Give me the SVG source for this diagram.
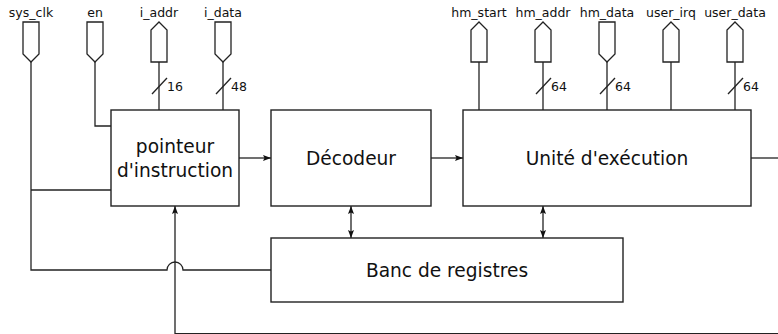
<svg xmlns="http://www.w3.org/2000/svg" width="778" height="334" viewBox="0 0 778 334">
  <style>
    .box { fill: #fff; stroke: #222; stroke-width: 1.4; }
    .wire { fill: none; stroke: #222; stroke-width: 1.3; }
    .port { fill: #fff; stroke: #222; stroke-width: 1.3; stroke-linejoin: miter; }
    .lbl { font-family: "DejaVu Sans", sans-serif; font-size: 12.5px; fill: #111; }
    .big { font-family: "DejaVu Sans", sans-serif; font-size: 18.6px; fill: #111; text-anchor: middle; }
  </style>
  <defs>
    <marker id="arr" viewBox="0 0 8 6" refX="8" refY="3" markerWidth="8" markerHeight="6" markerUnits="userSpaceOnUse" orient="auto-start-reverse">
      <path d="M0,0 L8,3 L0,6 L1.5,3 Z" fill="#111"/>
    </marker>
  </defs>

  <!-- input / output ports -->
  <g id="port-sys_clk">
    <text class="lbl" x="31" y="17" text-anchor="middle">sys_clk</text>
    <path class="port" d="M23,22 H39 V54 L31,62 L23,54 Z"/>
  </g>
  <g id="port-en">
    <text class="lbl" x="95" y="17" text-anchor="middle">en</text>
    <path class="port" d="M87,22 H103 V54 L95,62 L87,54 Z"/>
  </g>
  <g id="port-i_addr">
    <text class="lbl" x="159" y="17" text-anchor="middle">i_addr</text>
    <path class="port" d="M159,22 L167,30 V62 H151 V30 Z"/>
  </g>
  <g id="port-i_data">
    <text class="lbl" x="223" y="17" text-anchor="middle">i_data</text>
    <path class="port" d="M215,22 H231 V54 L223,62 L215,54 Z"/>
  </g>
  <g id="port-hm_start">
    <text class="lbl" x="479" y="17" text-anchor="middle">hm_start</text>
    <path class="port" d="M479,22 L487,30 V62 H471 V30 Z"/>
  </g>
  <g id="port-hm_addr">
    <text class="lbl" x="543" y="17" text-anchor="middle">hm_addr</text>
    <path class="port" d="M543,22 L551,30 V62 H535 V30 Z"/>
  </g>
  <g id="port-hm_data">
    <text class="lbl" x="607" y="17" text-anchor="middle">hm_data</text>
    <path class="port" d="M599,22 H615 V54 L607,62 L599,54 Z"/>
  </g>
  <g id="port-user_irq">
    <text class="lbl" x="671" y="17" text-anchor="middle">user_irq</text>
    <path class="port" d="M671,22 L679,30 V62 H663 V30 Z"/>
  </g>
  <g id="port-user_data">
    <text class="lbl" x="735" y="17" text-anchor="middle">user_data</text>
    <path class="port" d="M735,22 L743,30 V62 H727 V30 Z"/>
  </g>

  <!-- connectors -->
  <g id="connectors">
    <!-- clock: to instruction pointer and register bank (hops over feedback) -->
    <path class="wire" d="M31,62 V270 H167 A8,8 0 0 1 183,270 H271"/>
    <path class="wire" d="M31,190 H111"/>
    <!-- enable -->
    <path class="wire" d="M95,62 V126 H111"/>
    <!-- buses into the instruction pointer -->
    <path class="wire" d="M159,62 V110"/>
    <path class="wire" d="M152,94 L167,78"/>
    <text class="lbl" x="167" y="91">16</text>
    <path class="wire" d="M223,62 V110"/>
    <path class="wire" d="M216,94 L231,78"/>
    <text class="lbl" x="231" y="91">48</text>
    <!-- execution unit ports -->
    <path class="wire" d="M479,62 V110"/>
    <path class="wire" d="M543,62 V110"/>
    <path class="wire" d="M536,94 L551,78"/>
    <text class="lbl" x="551" y="91">64</text>
    <path class="wire" d="M607,62 V110"/>
    <path class="wire" d="M600,94 L615,78"/>
    <text class="lbl" x="615" y="91">64</text>
    <path class="wire" d="M671,62 V110"/>
    <path class="wire" d="M735,62 V110"/>
    <path class="wire" d="M728,94 L743,78"/>
    <text class="lbl" x="743" y="91">64</text>
    <!-- datapath -->
    <path class="wire" d="M239,158 H271" marker-end="url(#arr)"/>
    <path class="wire" d="M431,158 H463" marker-end="url(#arr)"/>
    <path class="wire" d="M751,158 H778"/>
    <!-- register bank access -->
    <path class="wire" d="M351,206 V238" marker-start="url(#arr)" marker-end="url(#arr)"/>
    <path class="wire" d="M543,206 V238" marker-start="url(#arr)" marker-end="url(#arr)"/>
    <!-- feedback into the instruction pointer -->
    <path class="wire" d="M778,333.6 H175 V206" marker-end="url(#arr)"/>
  </g>

  <!-- blocks -->
  <g id="pointeur">
    <rect class="box" x="111" y="110" width="128" height="96"/>
    <text class="big" x="175" y="153">pointeur</text>
    <text class="big" x="175" y="177">d'instruction</text>
  </g>
  <g id="decodeur">
    <rect class="box" x="271" y="110" width="160" height="96"/>
    <text class="big" x="351" y="165">Décodeur</text>
  </g>
  <g id="execution">
    <rect class="box" x="463" y="110" width="288" height="96"/>
    <text class="big" x="607" y="165">Unité d'exécution</text>
  </g>
  <g id="registres">
    <rect class="box" x="271" y="238" width="352" height="64"/>
    <text class="big" x="447" y="277">Banc de registres</text>
  </g>
</svg>
